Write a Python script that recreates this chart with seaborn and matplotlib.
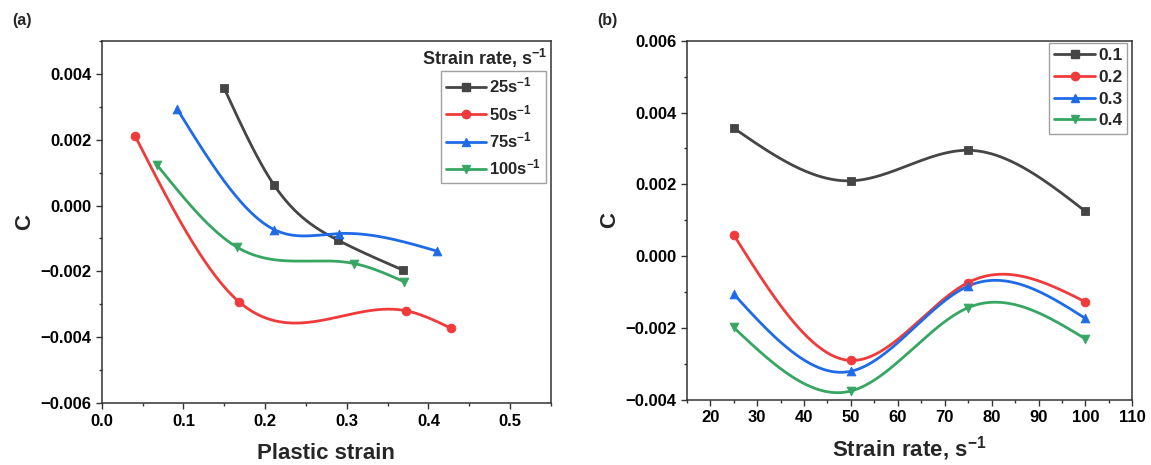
import numpy as np
import pandas as pd
import matplotlib
matplotlib.use("Agg")
import matplotlib.pyplot as plt
from matplotlib.lines import Line2D
from matplotlib.ticker import MultipleLocator, FuncFormatter
import seaborn as sns

# ---- data -------------------------------------------------------------
rate_labels = ["25s$^{-1}$", "50s$^{-1}$", "75s$^{-1}$", "100s$^{-1}$"]
strain_25 = [0.150, 0.211, 0.289, 0.369]
c_25 = [0.00355, 0.00062, -0.00105, -0.00196]
strain_50 = [0.041, 0.168, 0.372, 0.428]
c_50 = [0.00210, -0.00292, -0.00319, -0.00373]
strain_75 = [0.092, 0.211, 0.291, 0.410]
c_75 = [0.00294, -0.00073, -0.00085, -0.00138]
strain_100 = [0.068, 0.166, 0.309, 0.370]
c_100 = [0.00122, -0.00127, -0.00176, -0.00231]

strain_levels = ["0.1", "0.2", "0.3", "0.4"]
strain_rates = [25, 50, 75, 100]
c_eps_01 = [0.00357, 0.00210, 0.00295, 0.00125]
c_eps_02 = [0.00060, -0.00290, -0.00073, -0.00127]
c_eps_03 = [-0.00105, -0.00320, -0.00083, -0.00173]
c_eps_04 = [-0.00198, -0.00375, -0.00143, -0.00230]

colors = ["#454545", "#EF3B3B", "#1F6BE6", "#36A662"]
markers = ["s", "o", "^", "v"]

# ---- style ------------------------------------------------------------
sns.set_theme(style="ticks")
plt.rcParams.update({
    "font.family": ["Liberation Sans", "DejaVu Sans"],
    "font.weight": "bold",
    "axes.labelweight": "bold",
    "mathtext.fontset": "custom",
    "mathtext.rm": "Liberation Sans:bold",
    "mathtext.bf": "Liberation Sans:bold",
    "mathtext.it": "Liberation Sans:bold",
    "mathtext.default": "bf",
    "axes.edgecolor": "#333333",
    "axes.linewidth": 1.1,
    "xtick.color": "#333333",
    "ytick.color": "#333333",
    "xtick.labelcolor": "black",
    "ytick.labelcolor": "black",
})


def natural_spline(x, y, n=300):
    """Natural cubic spline through (x, y), sampled at n points."""
    x = np.asarray(x, float)
    y = np.asarray(y, float)
    k = len(x)
    h = np.diff(x)
    A = np.zeros((k, k))
    b = np.zeros(k)
    A[0, 0] = A[-1, -1] = 1.0
    for i in range(1, k - 1):
        A[i, i - 1] = h[i - 1]
        A[i, i] = 2 * (h[i - 1] + h[i])
        A[i, i + 1] = h[i]
        b[i] = 6 * ((y[i + 1] - y[i]) / h[i] - (y[i] - y[i - 1]) / h[i - 1])
    M = np.linalg.solve(A, b)
    xs = np.linspace(x[0], x[-1], n)
    idx = np.clip(np.searchsorted(x, xs) - 1, 0, k - 2)
    x0, x1 = x[idx], x[idx + 1]
    hh = x1 - x0
    t0 = x1 - xs
    t1 = xs - x0
    ys = (M[idx] * t0 ** 3 + M[idx + 1] * t1 ** 3) / (6 * hh) \
        + (y[idx] / hh - M[idx] * hh / 6) * t0 \
        + (y[idx + 1] / hh - M[idx + 1] * hh / 6) * t1
    return xs, ys


def fmt_c(v, _):
    if abs(v) < 1e-12:
        v = 0.0
    return f"{v:.3f}".replace("-", "\u2212")


def draw_series(ax, xs, ys, color, marker):
    sx, sy = natural_spline(xs, ys)
    sns.lineplot(x=sx, y=sy, ax=ax, color=color, linewidth=2.0,
                 sort=False, estimator=None, legend=False)
    sns.scatterplot(x=xs, y=ys, ax=ax, color=color, marker=marker, s=40,
                    edgecolor=color, linewidth=0.6, legend=False, zorder=3)


def style_axes(ax):
    ax.tick_params(which="major", direction="out", length=4.5, width=1.0,
                   labelsize=12, top=False, right=False, pad=3)
    ax.tick_params(which="minor", direction="out", length=2.5, width=1.0,
                   top=False, right=False)
    for lab in ax.get_xticklabels() + ax.get_yticklabels():
        lab.set_fontweight("bold")
    for sp in ax.spines.values():
        sp.set_visible(True)


def legend_handles(labels):
    return [Line2D([0], [0], color=c, marker=m, markersize=6, linewidth=2.0,
                   label=l) for c, m, l in zip(colors, markers, labels)]


fig = plt.figure(figsize=(11.51, 4.65), dpi=100)
ax1 = fig.add_axes([0.0884, 0.1327, 0.3903, 0.7798])
ax2 = fig.add_axes([0.5966, 0.1398, 0.3872, 0.7727])

# ---- (a) C versus plastic strain ---------------------------------------
series_a = [(strain_25, c_25), (strain_50, c_50),
            (strain_75, c_75), (strain_100, c_100)]
for (xs, ys), col, mk in zip(series_a, colors, markers):
    draw_series(ax1, xs, ys, col, mk)

ax1.set_xlim(0, 0.55)
ax1.set_ylim(-0.006, 0.005)
ax1.xaxis.set_major_locator(MultipleLocator(0.1))
ax1.xaxis.set_minor_locator(MultipleLocator(0.05))
ax1.yaxis.set_major_locator(MultipleLocator(0.002))
ax1.yaxis.set_minor_locator(MultipleLocator(0.001))
ax1.xaxis.set_major_formatter(FuncFormatter(lambda v, _: f"{v:.1f}"))
ax1.yaxis.set_major_formatter(FuncFormatter(fmt_c))
style_axes(ax1)
ax1.set_xlabel("Plastic strain", fontsize=16, fontweight="bold", labelpad=10)
ax1.set_ylabel("C", fontsize=16, fontweight="bold", labelpad=4)

leg1 = ax1.legend(handles=legend_handles(rate_labels), loc="upper right",
                  bbox_to_anchor=(0.988, 0.917), borderaxespad=0,
                  prop={"weight": "bold", "size": 12},
                  frameon=True, fancybox=False, edgecolor="#888888",
                  handlelength=2.4, handletextpad=0.15, labelspacing=0.45,
                  borderpad=0.3)
leg1.get_frame().set_linewidth(1.0)
ax1.text(0.992, 0.951, "Strain rate, s$^{-1}$", transform=ax1.transAxes,
         ha="right", va="center", fontsize=13, fontweight="bold")

# ---- (b) C versus strain rate ------------------------------------------
series_b = [c_eps_01, c_eps_02, c_eps_03, c_eps_04]
for ys, col, mk in zip(series_b, colors, markers):
    draw_series(ax2, strain_rates, ys, col, mk)

ax2.set_xlim(15, 110)
ax2.set_ylim(-0.004, 0.006)
ax2.xaxis.set_major_locator(MultipleLocator(10))
ax2.xaxis.set_minor_locator(MultipleLocator(5))
ax2.yaxis.set_major_locator(MultipleLocator(0.002))
ax2.yaxis.set_minor_locator(MultipleLocator(0.001))
ax2.yaxis.set_major_formatter(FuncFormatter(fmt_c))
style_axes(ax2)
ax2.set_xlabel("Strain rate, s$^{-1}$", fontsize=16, fontweight="bold",
               labelpad=6)
ax2.set_ylabel("C", fontsize=16, fontweight="bold", labelpad=4)

leg2 = ax2.legend(handles=legend_handles(strain_levels), loc="upper right",
                  bbox_to_anchor=(0.989, 0.994), borderaxespad=0,
                  prop={"weight": "bold", "size": 12.5},
                  frameon=True, fancybox=False, edgecolor="#888888",
                  handlelength=2.4, handletextpad=0.15, labelspacing=0.38,
                  borderpad=0.3)
leg2.get_frame().set_linewidth(1.0)

fig.text(12 / 1151, 1 - 20 / 465, "(a)", fontsize=11.5, fontweight="bold",
         ha="left", va="center")
fig.text(597 / 1151, 1 - 20 / 465, "(b)", fontsize=11.5, fontweight="bold",
         ha="left", va="center")

fig.savefig("out.png", dpi=100, facecolor="white")
